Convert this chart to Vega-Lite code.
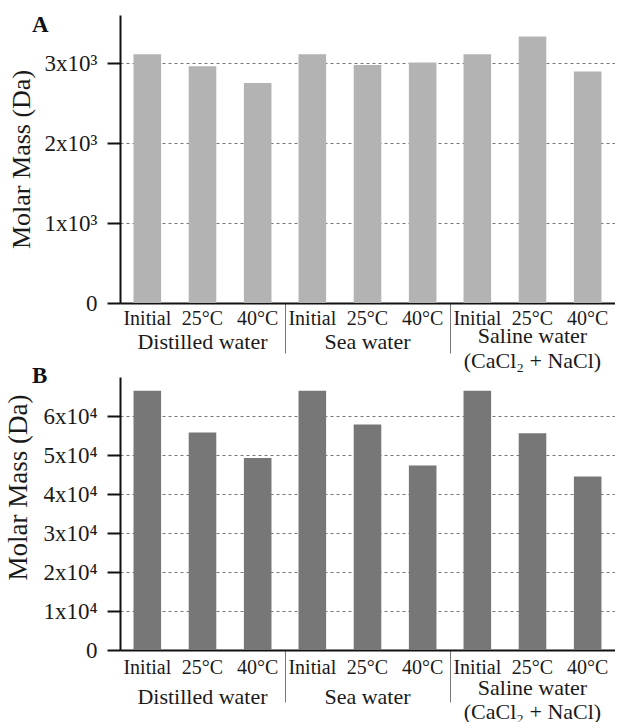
{
  "$schema": "https://vega.github.io/schema/vega-lite/v6.json",
  "padding": {"left": 4, "top": 14, "right": 0, "bottom": 0},
  "background": "white",
  "spacing": 74,
  "bounds": "flush",
  "config": {
    "font": "Liberation Serif",
    "view": {"stroke": null},
    "axis": {"labelFont": "Liberation Serif", "titleFont": "Liberation Serif", "labelColor": "#1a1a1a", "titleColor": "#1a1a1a", "domainColor": "#111", "tickColor": "#111"}
  },
  "datasets": {
    "A": [
      {"group": "Distilled water", "condition": "Initial", "mass": 3110},
      {"group": "Distilled water", "condition": "25°C", "mass": 2960},
      {"group": "Distilled water", "condition": "40°C", "mass": 2750},
      {"group": "Sea water", "condition": "Initial", "mass": 3110},
      {"group": "Sea water", "condition": "25°C", "mass": 2975},
      {"group": "Sea water", "condition": "40°C", "mass": 3005},
      {"group": "Saline water", "condition": "Initial", "mass": 3110},
      {"group": "Saline water", "condition": "25°C", "mass": 3330},
      {"group": "Saline water", "condition": "40°C", "mass": 2895}
    ],
    "B": [
      {"group": "Distilled water", "condition": "Initial", "mass": 66500},
      {"group": "Distilled water", "condition": "25°C", "mass": 55800},
      {"group": "Distilled water", "condition": "40°C", "mass": 49200},
      {"group": "Sea water", "condition": "Initial", "mass": 66500},
      {"group": "Sea water", "condition": "25°C", "mass": 57800},
      {"group": "Sea water", "condition": "40°C", "mass": 47300},
      {"group": "Saline water", "condition": "Initial", "mass": 66500},
      {"group": "Saline water", "condition": "25°C", "mass": 55600},
      {"group": "Saline water", "condition": "40°C", "mass": 44500}
    ]
  },
  "vconcat": [
    {
      "width": 495,
      "height": 288,
      "title": {"text": "A", "anchor": "start", "frame": "group", "fontSize": 23, "fontWeight": "bold", "font": "Liberation Serif", "dx": -88, "dy": 40, "offset": 0, "baseline": "alphabetic", "color": "#111"},
      "data": {"name": "A"},
      "encoding": {
        "x": {"field": "group", "type": "nominal", "sort": ["Distilled water", "Sea water", "Saline water"],
          "scale": {"paddingInner": 0, "paddingOuter": 0},
          "axis": {"title": null, "bandPosition": 0, "tickSize": 50, "tickWidth": 1, "tickColor": "#777",
            "tickOpacity": {"condition": {"test": "datum.value == 'Distilled water'", "value": 0}, "value": 1},
            "labelPadding": {"condition": {"test": "datum.value == 'Saline water'", "value": -28}, "value": -22},
            "labelFontSize": 22, "labelAngle": 0, "labelBaseline": "top", "labelLineHeight": 25, "labelOverlap": false,
            "labelExpr": "datum.value == 'Saline water' ? ['Saline water', '(CaCl₂ + NaCl)'] : datum.value",
            "domainWidth": 2, "grid": false}},
        "xOffset": {"field": "condition", "type": "nominal", "sort": ["Initial", "25°C", "40°C"], "scale": {"paddingInner": 0.5, "paddingOuter": 0.245}}
      },
      "layer": [
        {"mark": {"type": "bar", "color": "#b3b3b3"},
          "encoding": {"y": {"field": "mass", "type": "quantitative", "scale": {"domain": [0, 3600], "nice": false},
            "axis": {"title": "Molar Mass (Da)", "titleFontSize": 26, "titleFontWeight": "normal", "values": [0, 1000, 2000, 3000],
              "labelExpr": "datum.value == 0 ? '0' : (datum.value/1000) + 'x10³'", "labelFontSize": 23, "labelPadding": 10,
              "tickSize": 13, "tickWidth": 2, "domainWidth": 2, "grid": true, "gridDash": [3, 3], "gridColor": "#777", "gridWidth": 1, "titlePadding": 10}}}},
        {"mark": {"type": "text", "baseline": "top", "dy": 6, "fontSize": 20, "font": "Liberation Serif", "color": "#1a1a1a"},
          "encoding": {"y": {"datum": 0}, "text": {"field": "condition"}}}
      ]
    },
    {
      "width": 495,
      "height": 273,
      "title": {"text": "B", "anchor": "start", "frame": "group", "fontSize": 23, "fontWeight": "bold", "font": "Liberation Serif", "dx": -88, "dy": 29, "offset": 0, "baseline": "alphabetic", "color": "#111"},
      "data": {"name": "B"},
      "encoding": {
        "x": {"field": "group", "type": "nominal", "sort": ["Distilled water", "Sea water", "Saline water"],
          "scale": {"paddingInner": 0, "paddingOuter": 0},
          "axis": {"title": null, "bandPosition": 0, "tickSize": 52, "tickWidth": 1, "tickColor": "#777",
            "tickOpacity": {"condition": {"test": "datum.value == 'Distilled water'", "value": 0}, "value": 1},
            "labelPadding": {"condition": {"test": "datum.value == 'Saline water'", "value": -25}, "value": -16},
            "labelFontSize": 22, "labelAngle": 0, "labelBaseline": "top", "labelLineHeight": 24, "labelOverlap": false,
            "labelExpr": "datum.value == 'Saline water' ? ['Saline water', '(CaCl₂ + NaCl)'] : datum.value",
            "domainWidth": 2, "grid": false}},
        "xOffset": {"field": "condition", "type": "nominal", "sort": ["Initial", "25°C", "40°C"], "scale": {"paddingInner": 0.417, "paddingOuter": 0.31}}
      },
      "layer": [
        {"mark": {"type": "bar", "color": "#777777"},
          "encoding": {"y": {"field": "mass", "type": "quantitative", "scale": {"domain": [0, 70000], "nice": false},
            "axis": {"title": "Molar Mass (Da)", "titleFontSize": 27, "titleFontWeight": "normal", "values": [0, 10000, 20000, 30000, 40000, 50000, 60000],
              "labelExpr": "datum.value == 0 ? '0' : (datum.value/10000) + 'x10⁴'", "labelFontSize": 23, "labelPadding": 10, "titleY": 110,
              "tickSize": 13, "tickWidth": 2, "domainWidth": 2, "grid": true, "gridDash": [3, 3], "gridColor": "#777", "gridWidth": 1, "titlePadding": 10}}}},
        {"mark": {"type": "text", "baseline": "top", "dy": 8, "fontSize": 20, "font": "Liberation Serif", "color": "#1a1a1a"},
          "encoding": {"y": {"datum": 0}, "text": {"field": "condition"}}}
      ]
    }
  ]
}
